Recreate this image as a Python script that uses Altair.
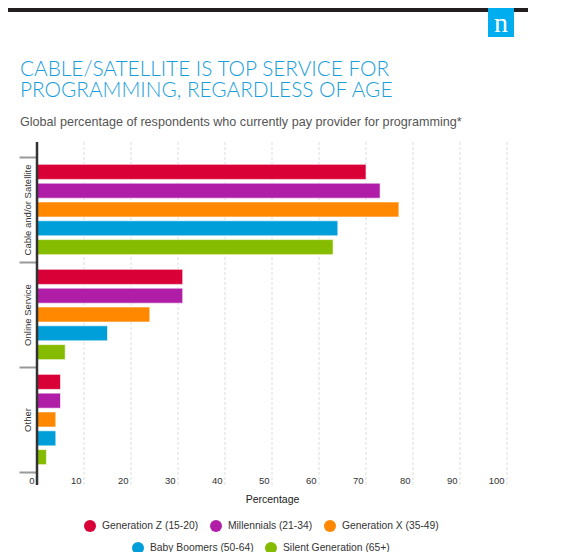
import altair as alt
import pandas as pd

# categories and series
services = ["Cable and/or Satellite", "Online Service", "Other"]
generations = [
    "Generation Z (15-20)",
    "Millennials (21-34)",
    "Generation X (35-49)",
    "Baby Boomers (50-64)",
    "Silent Generation (65+)",
]
colors = ["#d90037", "#b01ea8", "#ff8800", "#009fd9", "#86bc00"]

cable = [70, 73, 77, 64, 63]
online = [31, 31, 24, 15, 6]
other = [5, 5, 4, 4, 2]

x_ticks = [0, 10, 20, 30, 40, 50, 60, 70, 80, 90, 100]

rows = []
for service, values in zip(services, [cable, online, other]):
    for gen, v in zip(generations, values):
        rows.append({"service": service, "generation": gen, "pct": v})
source = pd.DataFrame(rows)

FONT = "Liberation Sans"

title = alt.TitleParams(
    ["CABLE/SATELLITE IS TOP SERVICE FOR", "PROGRAMMING, REGARDLESS OF AGE"],
    subtitle="Global percentage of respondents who currently pay provider for programming*",
    anchor="start",
    frame="group",
    font="Lato",
    fontSize=20.8,
    fontWeight=300,
    lineHeight=21,
    color="#1a9ed9",
    subtitleFont=FONT,
    subtitleFontSize=12.6,
    subtitleColor="#555555",
    subtitlePadding=15,
    offset=-122,
    dx=-17,
)

x_axis = alt.Axis(
    values=x_ticks,
    grid=False,
    domain=False,
    ticks=False,
    labelAlign="right",
    labelBaseline="top",
    labelOffset=-3,
    labelPadding=3,
    labelFont=FONT,
    labelFontSize=9.5,
    labelColor="#333333",
    titleFont=FONT,
    titleFontSize=10.5,
    titleFontWeight="normal",
    titleColor="#222222",
    titlePadding=10,
)
x_scale = alt.Scale(domain=[0, 100], nice=False)

y_enc = alt.Y(
    "service:N",
    sort=services,
    title=None,
    scale=alt.Scale(paddingInner=0, paddingOuter=0),
    axis=alt.Axis(
        domain=False,
        grid=False,
        tickBand="extent",
        tickSize=18,
        tickWidth=2,
        tickColor="#999999",
        labelAngle=270,
        labelAlign="center",
        labelBaseline="middle",
        labelPadding=-8,
        labelFont=FONT,
        labelFontSize=9.5,
        labelColor="#333333",
    ),
)

yoff_enc = alt.YOffset(
    "generation:N",
    sort=generations,
    scale=alt.Scale(domain=generations, paddingInner=0.2, paddingOuter=0.39),
)

legend_style = dict(
    orient="none",
    direction="horizontal",
    title=None,
    symbolType="circle",
    symbolSize=144,
    symbolStrokeWidth=0,
    labelFont=FONT,
    labelFontSize=10.3,
    labelColor="#333333",
    labelOffset=6,
    columnPadding=11,
    padding=0,
)

bar_mark = dict(stroke="white", strokeWidth=1, strokeOpacity=0.6)

# two bar layers so the legend can be split over two centred rows
bars_top = alt.Chart(source).transform_filter(
    alt.FieldOneOfPredicate(field="generation", oneOf=generations[:3])
).mark_bar(**bar_mark).encode(
    x=alt.X("pct:Q", title="Percentage", scale=x_scale, axis=x_axis),
    y=y_enc,
    yOffset=yoff_enc,
    color=alt.Color(
        "generation:N",
        scale=alt.Scale(domain=generations[:3], range=colors[:3]),
        legend=alt.Legend(legendX=47, legendY=363, **legend_style),
    ),
)

bars_bottom = alt.Chart(source).transform_filter(
    alt.FieldOneOfPredicate(field="generation", oneOf=generations[3:])
).mark_bar(**bar_mark).encode(
    x=alt.X("pct:Q", title="Percentage", scale=x_scale, axis=x_axis),
    y=y_enc,
    yOffset=yoff_enc,
    fill=alt.Fill(
        "generation:N",
        scale=alt.Scale(domain=generations[3:], range=colors[3:]),
        legend=alt.Legend(legendX=95, legendY=385, **legend_style),
    ),
)

# dotted gridlines running a little past the bands, as in the original
grid = alt.Chart(pd.DataFrame({"pct": x_ticks[1:]})).mark_rule(
    color="#dddddd", strokeDash=[3, 2], strokeWidth=1
).encode(
    x=alt.X("pct:Q", title="Percentage", scale=x_scale, axis=x_axis),
    y=alt.value(-15),
    y2=alt.value(328),
)

axis_line = alt.Chart(pd.DataFrame({"pct": x_ticks[:1]})).mark_rule(
    color="#333333", strokeWidth=2.5
).encode(
    x=alt.X("pct:Q", title="Percentage", scale=x_scale, axis=x_axis),
    y=alt.value(-15),
    y2=alt.value(328),
)

# header decoration: black band and the blue "n" badge
deco = alt.Chart(pd.DataFrame({"k": [0]}))
top_band = deco.mark_rect(color="#231f20").encode(
    x=alt.value(-29), x2=alt.value(491), y=alt.value(-149), y2=alt.value(-145)
)
badge = deco.mark_rect(color="#00aeef").encode(
    x=alt.value(451), x2=alt.value(477), y=alt.value(-149), y2=alt.value(-120)
)
badge_n = deco.mark_text(
    text="n", font="Liberation Serif", fontSize=28, color="white",
    align="center", baseline="alphabetic"
).encode(x=alt.value(464), y=alt.value(-125))

chart = alt.layer(
    grid, bars_top, bars_bottom, axis_line, top_band, badge, badge_n, title=title
).resolve_scale(
    color="independent", fill="independent"
).properties(
    width=470,
    height=315,
    autosize=alt.AutoSizeParams(type="none"),
    padding={"left": 29, "top": 149, "right": 67, "bottom": 80},
).configure_view(stroke=None)

chart.save("out.html", embed_options={"renderer": "svg", "actions": False})
